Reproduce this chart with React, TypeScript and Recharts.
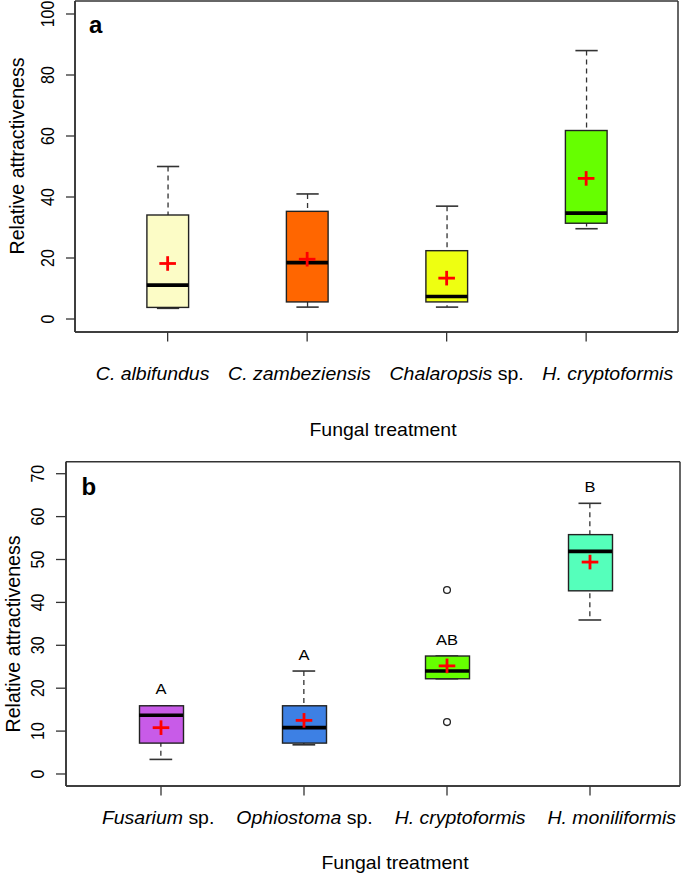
import React from 'react';
import { ComposedChart, Bar, Scatter, XAxis, YAxis, Label, CartesianGrid } from 'recharts';

// ---------- Panel a data ----------
const italicA = ['C. albifundus', 'C. zambeziensis', 'Chalaropsis', 'H. cryptoformis'];
const plainA = ['', '', ' sp.', ''];
const minA = [3.5, 3.9, 3.9, 29.6];
const q1A = [3.8, 5.6, 5.6, 31.4];
const medianA = [11.1, 18.5, 7.4, 34.7];
const q3A = [34.1, 35.3, 22.4, 61.8];
const maxA = [50.0, 41.0, 37.0, 88.0];
const meanA = [18.2, 19.6, 13.4, 46.1];
const colorsA = ['#FCFCC6', '#FF6600', '#EEFF11', '#66FF00'];
const ticksA = [0, 20, 40, 60, 80, 100];

// ---------- Panel b data ----------
const italicB = ['Fusarium', 'Ophiostoma', 'H. cryptoformis', 'H. moniliformis'];
const plainB = [' sp.', ' sp.', '', ''];
const minB = [3.4, 6.8, 22.2, 35.9];
const q1B = [7.2, 7.2, 22.2, 42.7];
const medianB = [13.7, 10.8, 24.0, 51.9];
const q3B = [15.9, 15.9, 27.5, 55.8];
const maxB = [15.9, 24.0, 27.5, 63.1];
const meanB = [10.8, 12.5, 25.2, 49.4];
const outlierHighB = [null, null, 42.9, null];
const outlierLowB = [null, null, 12.1, null];
const lettersB = ['A', 'A', 'AB', 'B'];
const letterPosB = [18.6, 26.5, 30.0, 65.7];
const colorsB = ['#C85BE8', '#3D80E4', '#66FF00', '#55FFBB'];
const ticksB = [0, 10, 20, 30, 40, 50, 60, 70];

const FONT = '"Liberation Sans", Arial, Helvetica, sans-serif';
const CHART_W = 685;

function buildRows(italic: string[], plain: string[], mn: number[], q1: number[], md: number[], q3: number[], mx: number[], mean: number[], colors: string[], extra?: any) {
  return italic.map((it, i) => {
    const row: any = {
      name: it + plain[i],
      whisker: [mn[i], mx[i]],
      box: [q1[i], q3[i]],
      median: md[i],
      mean: mean[i],
      color: colors[i],
    };
    if (extra) {
      row.outHi = extra.hi[i];
      row.outLo = extra.lo[i];
      row.letter = extra.letters[i];
      row.letterY = extra.letterY[i];
    }
    return row;
  });
}

const rowsA = buildRows(italicA, plainA, minA, q1A, medianA, q3A, maxA, meanA, colorsA);
const rowsB = buildRows(italicB, plainB, minB, q1B, medianB, q3B, maxB, meanB, colorsB, {
  hi: outlierHighB,
  lo: outlierLowB,
  letters: lettersB,
  letterY: letterPosB,
});

const ok = (...v: any[]) => v.every((n) => typeof n === 'number' && Number.isFinite(n));

const WhiskerShape = (props: any) => {
  const { x, y, width, height } = props;
  if (!ok(x, y, width, height)) return <g />;
  const top = Math.min(y, y + height);
  const bot = Math.max(y, y + height);
  const cx = x + width / 2;
  return (
    <g>
      <line x1={cx} x2={cx} y1={top} y2={bot} stroke="#333" strokeWidth={1.3} strokeDasharray="5 4" />
      <line x1={x} x2={x + width} y1={top} y2={top} stroke="#333" strokeWidth={1.6} />
      <line x1={x} x2={x + width} y1={bot} y2={bot} stroke="#333" strokeWidth={1.6} />
    </g>
  );
};

const BoxShape = (props: any) => {
  const { x, y, width, height, payload } = props;
  if (!ok(x, y, width, height)) return <g />;
  const top = Math.min(y, y + height);
  const h = Math.abs(height);
  return <rect x={x} y={top} width={width} height={h} fill={payload.color} stroke="#222" strokeWidth={1.4} />;
};

// median bar; also draws the category tick mark below the plot frame at the same x
const makeMedian = (w: number, axisY: number, tickLen: number) => (props: any) => {
  const { cx, cy } = props;
  if (!ok(cx, cy)) return <g />;
  return (
    <g>
      <line x1={cx - w / 2} x2={cx + w / 2} y1={cy} y2={cy} stroke="#000" strokeWidth={3.6} />
      <line x1={cx} x2={cx} y1={axisY} y2={axisY + tickLen} stroke="#333" strokeWidth={1.3} />
    </g>
  );
};

const MeanShape = (props: any) => {
  const { cx, cy } = props;
  if (!ok(cx, cy)) return <g />;
  return (
    <g>
      <line x1={cx - 8.3} x2={cx + 8.3} y1={cy} y2={cy} stroke="#FF0000" strokeWidth={2.8} />
      <line x1={cx} x2={cx} y1={cy - 7.3} y2={cy + 7.3} stroke="#FF0000" strokeWidth={2.8} />
    </g>
  );
};

const makeOutlier = (key: string) => (props: any) => {
  const { cx, cy, payload } = props;
  if (!payload || payload[key] == null || !ok(cx, cy)) return <g />;
  return <circle cx={cx} cy={cy} r={3.4} fill="none" stroke="#222" strokeWidth={1.3} />;
};

const LetterShape = (props: any) => {
  const { cx, cy, payload } = props;
  if (!payload || !payload.letter || !ok(cx, cy)) return <g />;
  return (
    <g transform={`translate(${cx},${cy}) scale(1.1,1)`}>
      <text x={0} y={0} textAnchor="middle" fontSize={15} fontFamily={FONT} fill="#000">
        {payload.letter}
      </text>
    </g>
  );
};

const makeYTick = (fontSize: number) => (props: any) => {
  const { x, y, payload } = props;
  const bx = x - 10.5;
  return (
    <g transform={`translate(${bx},${y}) scale(1.1,1) rotate(-90)`}>
      <text x={0} y={0} textAnchor="middle" fontSize={fontSize} fontFamily={FONT} fill="#000">
        {payload.value}
      </text>
    </g>
  );
};

type Cfg = {
  rows: any[];
  italic: string[];
  plain: string[];
  height: number;
  top: number;
  right: number;
  yAxisWidth: number;
  xAxisHeight: number;
  padding: { left: number; right: number };
  domain: [number, number];
  ticks: number[];
  boxWidth: number;
  capWidth: number;
  yTickSize: number;
  panelLetter: string;
  letterDx: number;
  letterDy: number;
  catCenter: number;
  catBaseline: number;
  catGap: number;
  titleCenter: number;
  titleBaseline: number;
  yTitleX: number;
  yTitleY: number;
  hasExtras: boolean;
};

const X_TICK = 9.5;

function BoxPanel({ cfg }: { cfg: Cfg }) {
  const axisY = cfg.height - cfg.xAxisHeight; // bottom edge of plot area (margin bottom is 0)
  const xLabels = (p: any) => {
    const vb = p.viewBox || {};
    const baseY = Number.isFinite(Number(vb.y)) ? Number(vb.y) : axisY;
    const parts: any[] = [];
    cfg.italic.forEach((it, i) => {
      parts.push(
        <tspan key={'i' + i} dx={i === 0 ? 0 : cfg.catGap} fontStyle="italic">
          {it}
        </tspan>
      );
      if (cfg.plain[i]) parts.push(<tspan key={'p' + i}>{cfg.plain[i]}</tspan>);
    });
    return (
      <g>
        <g transform={`translate(${cfg.catCenter},${baseY + cfg.catBaseline}) scale(1.1,1)`}>
          <text x={0} y={0} textAnchor="middle" fontSize={17.7} fontFamily={FONT} fill="#000" style={{ whiteSpace: 'pre' }}>
            {parts}
          </text>
        </g>
        <g transform={`translate(${cfg.titleCenter},${baseY + cfg.titleBaseline}) scale(1.1,1)`}>
          <text x={0} y={0} textAnchor="middle" fontSize={17.7} fontFamily={FONT} fill="#000">
            Fungal treatment
          </text>
        </g>
      </g>
    );
  };
  const yLabels = (p: any) => {
    const vb = p.viewBox || {};
    const plotLeft = cfg.yAxisWidth;
    const plotTop = Number.isFinite(Number(vb.y)) ? Number(vb.y) : cfg.top;
    return (
      <g>
        <g transform={`translate(${cfg.yTitleX},${cfg.yTitleY}) scale(1.07,1) rotate(-90)`}>
          <text x={0} y={0} textAnchor="middle" fontSize={19.6} fontFamily={FONT} fill="#000">
            Relative attractiveness
          </text>
        </g>
        <text x={plotLeft + cfg.letterDx} y={plotTop + cfg.letterDy} fontSize={24} fontWeight="bold" fontFamily={FONT} fill="#000">
          {cfg.panelLetter}
        </text>
      </g>
    );
  };
  const axisStroke = { stroke: '#333', strokeWidth: 1.5 };
  return (
    <ComposedChart
      width={CHART_W}
      height={cfg.height}
      data={cfg.rows}
      margin={{ top: cfg.top, right: cfg.right, bottom: 0, left: 0 }}
    >
      <CartesianGrid
        stroke="#333"
        strokeWidth={1.5}
        fill="none"
        horizontalCoordinatesGenerator={({ offset }: any) => [offset.top, offset.top + offset.height]}
        verticalCoordinatesGenerator={({ offset }: any) => [offset.left, offset.left + offset.width]}
      />
      <XAxis
        xAxisId="main"
        dataKey="name"
        type="category"
        padding={cfg.padding}
        height={cfg.xAxisHeight}
        tickLine={false}
        axisLine={axisStroke}
        tick={false}
        interval={0}
      >
        <Label content={xLabels} />
      </XAxis>
      <XAxis xAxisId="w" dataKey="name" type="category" hide height={0} padding={cfg.padding} />
      <XAxis xAxisId="x" dataKey="name" type="category" hide height={0} padding={cfg.padding} />
      <YAxis
        type="number"
        domain={cfg.domain}
        ticks={cfg.ticks}
        interval={0}
        width={cfg.yAxisWidth}
        tickSize={cfg.yTickSize}
        tickLine={{ stroke: '#333', strokeWidth: 1.3 }}
        axisLine={axisStroke}
        tick={makeYTick(16)}
      >
        <Label content={yLabels} />
      </YAxis>
      <Bar xAxisId="w" dataKey="whisker" barSize={cfg.capWidth} shape={WhiskerShape} isAnimationActive={false} />
      <Bar xAxisId="x" dataKey="box" barSize={cfg.boxWidth} shape={BoxShape} isAnimationActive={false} />
      <Scatter
        xAxisId="main"
        dataKey="median"
        shape={makeMedian(cfg.boxWidth, axisY, X_TICK)}
        isAnimationActive={false}
      />
      <Scatter xAxisId="main" dataKey="mean" shape={MeanShape} isAnimationActive={false} />
      {cfg.hasExtras && (
        <Scatter xAxisId="main" dataKey="outHi" shape={makeOutlier('outHi')} isAnimationActive={false} />
      )}
      {cfg.hasExtras && (
        <Scatter xAxisId="main" dataKey="outLo" shape={makeOutlier('outLo')} isAnimationActive={false} />
      )}
      {cfg.hasExtras && (
        <Scatter xAxisId="main" dataKey="letterY" shape={LetterShape} isAnimationActive={false} />
      )}
    </ComposedChart>
  );
}

const cfgA: Cfg = {
  rows: rowsA,
  italic: italicA,
  plain: plainA,
  height: 440,
  top: 1,
  right: 7,
  yAxisWidth: 75,
  xAxisHeight: 108,
  padding: { left: 22.9, right: 22.1 },
  domain: [-4.26, 104.26],
  ticks: ticksA,
  boxWidth: 41.7,
  capWidth: 22.3,
  yTickSize: 9,
  panelLetter: 'a',
  letterDx: 14,
  letterDy: 32,
  catCenter: 384.5,
  catBaseline: 48,
  catGap: 17,
  titleCenter: 383,
  titleBaseline: 104,
  yTitleX: 23.5,
  yTitleY: 156,
  hasExtras: false,
};

const cfgB: Cfg = {
  rows: rowsB,
  italic: italicB,
  plain: plainB,
  height: 433,
  top: 21.7,
  right: 5,
  yAxisWidth: 66,
  xAxisHeight: 87,
  padding: { left: 23.5, right: 18.5 },
  domain: [-2.8, 72.8],
  ticks: ticksB,
  boxWidth: 44,
  capWidth: 22.7,
  yTickSize: 10,
  panelLetter: 'b',
  letterDx: 15.5,
  letterDy: 33.3,
  catCenter: 389,
  catBaseline: 38.3,
  catGap: 20,
  titleCenter: 395,
  titleBaseline: 83.3,
  yTitleX: 19.5,
  yTitleY: 194,
  hasExtras: true,
};

export default function App() {
  return (
    <div style={{ position: 'absolute', left: 0, top: 0, width: 685, height: 873, background: '#fff', overflow: 'hidden' }}>
      <div style={{ position: 'absolute', left: 0, top: 0 }}>
        <BoxPanel cfg={cfgA} />
      </div>
      <div style={{ position: 'absolute', left: 0, top: 440 }}>
        <BoxPanel cfg={cfgB} />
      </div>
    </div>
  );
}
